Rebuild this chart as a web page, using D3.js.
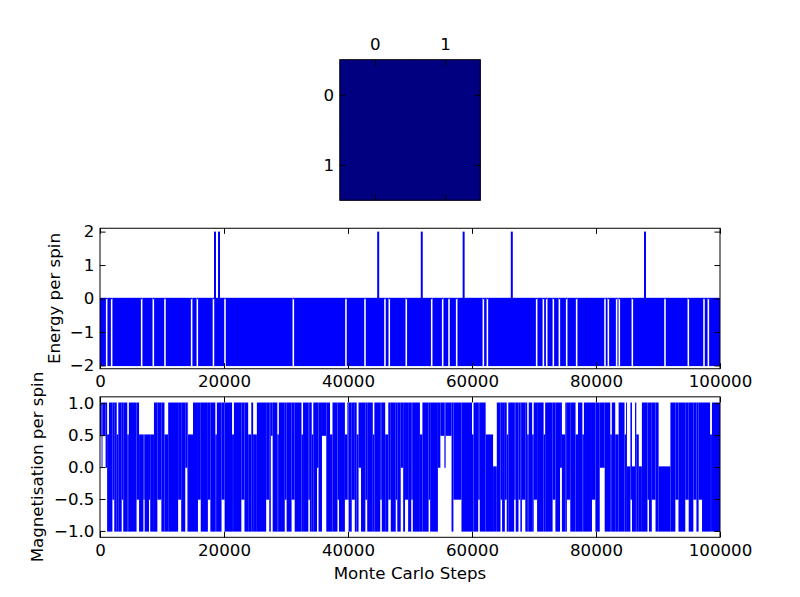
<!DOCTYPE html>
<html lang="en">
<head>
<meta charset="UTF-8">
<title>Ising 2x2 - Monte Carlo</title>
<script src="https://d3js.org/d3.v7.min.js"></script>
<style>
    body { margin: 0; background: white; }
    svg { display: block; background: white; }
    text { font-family: "DejaVu Sans", sans-serif; }
</style>
</head>
<body>
<svg id="chart" width="800" height="597"></svg>
<script>
    // Final spin lattice (2x2), all spins aligned
    const spinRows = [0, 1];
    const spinCols = [0, 1];
    const spins = [[-1, -1], [-1, -1]];

    // Monte Carlo axis
    const totalSteps = 100000;
    const stepTicks = [0, 20000, 40000, 60000, 80000, 100000];

    // Energy per spin: flips between -2 and 0 nearly every step,
    // with a few stretches where it sat still, and a few jumps to +2
    const energyBand = [-2, 0];
    const energySpikeLevel = 2;
    const energyTicks = [-2, -1, 0, 1, 2];
    const energyGaps = [1075, 1880, 6720, 8600, 10480, 14780, 15700, 18300, 20160, 31180,
        39670, 42740, 45960, 46660, 49400, 53500, 55270, 56290, 57530, 61830, 62480,
        70430, 71510, 72050, 73120, 74090, 75270, 76880, 81450, 81990, 83330, 83760,
        85860, 91130, 94890, 97420, 98120];
    const energySpikes = [18550, 19190, 44870, 51900, 58650, 66420, 87900];

    // Magnetisation per spin: [start step, lowest, highest] value the trace
    // sweeps over in each run (a run lasts until the next start)
    const magTicks = [-1, -0.5, 0, 0.5, 1];
    const magRuns = [
        [0, 0.5, 1], [250, 0, 1], [400, 0.5, 1], [900, 0, 1], [1150, -1, 0.5],
        [1450, -1, 1], [2000, -0.5, 1], [2300, -1, 1], [2700, -1, 0.5], [2950, -1, 1],
        [3500, -0.5, 1], [3750, -1, 1], [4400, -1, 0.5], [4650, -1, 1], [5900, -0.5, 1],
        [6300, -1, 0.5], [7000, -0.5, 0.5], [7200, -1, 0.5], [7900, -0.5, 0.5], [8100, -1, 0.5],
        [8700, -1, 1], [9250, -0.5, 1], [9900, -1, 1], [10400, -1, 0.5], [11000, -1, 1],
        [12600, -0.5, 1], [13100, -1, 1], [13750, 0, 1], [14100, -1, 1], [14200, -1, 0.5],
        [15000, -1, 1], [15800, -0.5, 1], [16250, -1, 1], [17400, -0.5, 1], [17800, -1, 1],
        [18600, -1, 0.5], [18850, -1, 1], [19600, -0.5, 1], [20100, -1, 1], [21300, -1, 0.5],
        [21600, -1, 1], [22800, -0.5, 1], [23300, -1, 1], [23900, -1, 0.5], [24400, -1, 1],
        [24700, -1, 0.5], [25300, -1, 1], [26800, -0.5, 1], [27300, -1, 1], [27550, 0.5, 1],
        [27850, -1, 1], [28600, -1, 0.5], [28850, -1, 1], [29800, -0.5, 1], [30100, -1, 1],
        [30900, -0.5, 1], [31400, -1, 1], [32500, -1, 0.5], [32750, -1, 1], [33600, -0.5, 1],
        [33850, -1, 1], [34150, -1, 0.5], [34400, -1, 1], [35000, 0, 1], [35250, -1, 1],
        [35800, 0.5, 1], [36500, -1, 1], [37100, -1, 0.5], [37500, -1, 1], [38300, -0.5, 1],
        [38550, -1, 1], [39500, -0.5, 0.5], [39900, -0.5, 1], [40100, -1, 1], [40600, -0.5, 1],
        [41100, -1, 1], [41400, -1, 0.5], [41700, 0, 1], [42100, -1, 1], [42800, -0.5, 1],
        [43100, -1, 1], [44000, -1, 0.5], [44250, -1, 1], [45200, -0.5, 1], [45450, -1, 1],
        [46000, -1, 0.5], [46500, -0.5, 1], [46900, -1, 1], [47700, -0.5, 1], [47950, -1, 1],
        [48500, 0, 1], [48900, -1, 1], [49200, -0.5, 1], [49700, -1, 1], [50200, -0.5, 1],
        [50450, -1, 1], [51600, -1, 0.5], [52000, -1, 1], [53000, -0.5, 1], [53250, -1, 1],
        [54500, 0, 1], [54900, 0.5, 1], [55550, 0, 1], [55750, 0.5, 1], [56700, -1, 1],
        [57000, -0.5, 1], [58300, -1, 1], [60000, -1, 0.5], [60250, -1, 1], [61000, -0.5, 1],
        [61250, -1, 1], [62200, -1, 0.5], [63400, -1, 0], [64000, -1, 1], [64600, -0.5, 1],
        [64850, -1, 1], [65300, -0.5, 1], [65600, -1, 0.5], [65850, -1, 1], [66800, -0.5, 1],
        [67050, -1, 1], [67500, -0.5, 1], [67800, -1, 1], [68050, -0.5, 1], [68600, -1, 1],
        [68900, -1, 0.5], [69150, -1, 1], [69700, -1, 0.5], [69950, -0.5, 1], [70500, -1, 1],
        [71550, -1, 0.5], [71800, -1, 1], [73000, -0.5, 1], [73450, -1, 1], [74200, 0, 1],
        [74500, -1, 0.5], [75050, -1, 1], [75300, -0.5, 1], [75850, -1, 1], [76700, -1, 0.5],
        [77100, -1, 1], [77800, -1, 0.5], [78050, -1, 1], [79350, -0.5, 1], [79900, -1, 1],
        [80600, 0, 1], [81400, -1, 1], [82300, -1, 0.5], [82550, -1, 1], [83100, -1, 0.5],
        [83650, -1, 1], [84600, -1, 0.5], [84850, -1, 1], [85000, -1, 0], [85550, -0.5, 1],
        [85800, -1, 0], [86300, -1, 1], [86500, -1, 0.5], [86900, -1, 0], [87400, -1, 1],
        [88300, -0.5, 1], [88550, -1, 1], [89000, -0.5, 1], [89600, -1, 1], [90100, -1, 0],
        [92000, -1, 1], [92800, -0.5, 1], [93300, -1, 1], [94400, -0.5, 1], [94950, -1, 1],
        [95700, -0.5, 1], [96200, -1, 1], [96550, -0.5, 1], [97100, -1, 1], [98400, -1, 0.5],
        [98700, -1, 1]
    ];

    const svg = d3.select("#chart");
    const fontSize = 16.67;
    const lineColor = "#0000ff";
    const lw = 1.39; // matplotlib 1pt line at 100 dpi

    // figure layout (3 rows, shared left/right)
    const left = 100, right = 720;
    const figTop = 59.7, figBottom = 537.3;
    const rowH = (figBottom - figTop) / 3.4;
    const rowGap = rowH * 0.2;
    const rowTop = i => figTop + i * (rowH + rowGap);

    function styleAxis(g) {
        g.select(".domain").remove();
        g.selectAll("line").attr("stroke", "black").attr("stroke-width", 1);
        g.selectAll("text").attr("font-size", fontSize).attr("font-family", "DejaVu Sans").attr("fill", "black");
        g.attr("font-size", null).attr("font-family", null);
    }

    function spines(x0, y0, w, h) {
        svg.append("rect")
            .attr("x", x0).attr("y", y0).attr("width", w).attr("height", h)
            .attr("fill", "none").attr("stroke", "black").attr("stroke-width", 1);
    }

    // ---------- Top: spin lattice ----------
    const side = rowH;
    const latX = (left + right) / 2 - side / 2;
    const latY = rowTop(0);
    const cx = d3.scaleBand().domain(spinCols).range([latX, latX + side]);
    const cy = d3.scaleBand().domain(spinRows).range([latY, latY + side]);
    const jet = d3.scaleLinear().domain([-1, 0, 1]).range(["#000080", "#7fff7f", "#800000"]);

    svg.append("g").selectAll("rect")
        .data(spins.flatMap((row, r) => row.map((v, c) => ({ r, c, v }))))
        .join("rect")
        .attr("x", d => cx(d.c))
        .attr("y", d => cy(d.r))
        .attr("width", cx.bandwidth() + 0.5)
        .attr("height", cy.bandwidth() + 0.5)
        .attr("fill", d => jet(d.v));

    const cxc = d3.scalePoint().domain(spinCols).range([latX + side / 4, latX + side * 3 / 4]);
    const cyc = d3.scalePoint().domain(spinRows).range([latY + side / 4, latY + side * 3 / 4]);
    svg.append("g").attr("transform", `translate(0,${latY})`)
        .call(d3.axisTop(cxc).tickSize(-5.56).tickPadding(9.5)).call(styleAxis);
    svg.append("g").attr("transform", `translate(0,${latY + side})`)
        .call(d3.axisBottom(cxc).tickSize(-5.56).tickFormat("")).call(styleAxis);
    svg.append("g").attr("transform", `translate(${latX},0)`)
        .call(d3.axisLeft(cyc).tickSize(-5.56).tickPadding(5.6)).call(styleAxis);
    svg.append("g").attr("transform", `translate(${latX + side},0)`)
        .call(d3.axisRight(cyc).tickSize(-5.56).tickFormat("")).call(styleAxis);
    spines(latX, latY, side, side);

    // ---------- shared x scale ----------
    const x = d3.scaleLinear().domain([0, totalSteps]).range([left, right]);

    function drawRuns(g, runs, y) {
        g.selectAll("rect.run")
            .data(runs)
            .join("rect")
            .attr("class", "run")
            .attr("x", d => x(d.x0))
            .attr("width", d => Math.max(0, x(d.x1) - x(d.x0)))
            .attr("y", d => y(d.hi) - lw / 2)
            .attr("height", d => y(d.lo) - y(d.hi) + lw)
            .attr("fill", lineColor);
    }

    function timeAxes(top, y, ticks, fmt) {
        const bottom = top + rowH;
        svg.append("g").attr("transform", `translate(0,${bottom})`)
            .call(d3.axisBottom(x).tickValues(stepTicks).tickFormat(d3.format("d")).tickSize(-5.56).tickPadding(6.7))
            .call(styleAxis);
        svg.append("g").attr("transform", `translate(0,${top})`)
            .call(d3.axisTop(x).tickValues(stepTicks).tickFormat("").tickSize(-5.56))
            .call(styleAxis);
        svg.append("g").attr("transform", `translate(${left},0)`)
            .call(d3.axisLeft(y).tickValues(ticks).tickFormat(fmt).tickSize(-5.56).tickPadding(5.6))
            .call(styleAxis);
        svg.append("g").attr("transform", `translate(${right},0)`)
            .call(d3.axisRight(y).tickValues(ticks).tickFormat("").tickSize(-5.56))
            .call(styleAxis);
        spines(left, top, right - left, rowH);
    }

    // ---------- Middle: energy ----------
    const eTop = rowTop(1);
    const yE = d3.scaleLinear().domain([-2.1, 2.1]).range([eTop + rowH, eTop]);
    const gapLen = 250;
    const eRuns = [];
    let start = 0;
    energyGaps.forEach(g => {
        eRuns.push({ x0: start, x1: g - gapLen / 2, lo: energyBand[0], hi: energyBand[1] });
        eRuns.push({ x0: g - gapLen / 2, x1: g + gapLen / 2, lo: energyBand[1], hi: energyBand[1] });
        start = g + gapLen / 2;
    });
    eRuns.push({ x0: start, x1: totalSteps, lo: energyBand[0], hi: energyBand[1] });

    const eG = svg.append("g");
    drawRuns(eG, eRuns, yE);
    eG.selectAll("line.spike")
        .data(energySpikes)
        .join("line")
        .attr("class", "spike")
        .attr("x1", d => x(d)).attr("x2", d => x(d))
        .attr("y1", yE(energyBand[1])).attr("y2", yE(energySpikeLevel))
        .attr("stroke", lineColor).attr("stroke-width", 2);
    timeAxes(eTop, yE, energyTicks, d3.format("d"));

    svg.append("text")
        .attr("transform", `translate(59.5,${eTop + rowH / 2}) rotate(-90)`)
        .attr("text-anchor", "middle")
        .attr("font-size", fontSize)
        .text("Energy per spin");

    // ---------- Bottom: magnetisation ----------
    const mTop = rowTop(2);
    const yM = d3.scaleLinear().domain([-1.1, 1.1]).range([mTop + rowH, mTop]);
    const mRuns = magRuns.map((r, i) => ({
        x0: r[0],
        x1: i + 1 < magRuns.length ? magRuns[i + 1][0] : totalSteps,
        lo: r[1],
        hi: r[2]
    }));
    drawRuns(svg.append("g"), mRuns, yM);
    timeAxes(mTop, yM, magTicks, d3.format(".1f"));

    svg.append("text")
        .attr("transform", `translate(42.5,${mTop + rowH / 2}) rotate(-90)`)
        .attr("text-anchor", "middle")
        .attr("font-size", fontSize)
        .text("Magnetisation per spin");

    svg.append("text")
        .attr("x", (left + right) / 2)
        .attr("y", 579)
        .attr("text-anchor", "middle")
        .attr("font-size", fontSize)
        .text("Monte Carlo Steps");
</script>
</body>
</html>
